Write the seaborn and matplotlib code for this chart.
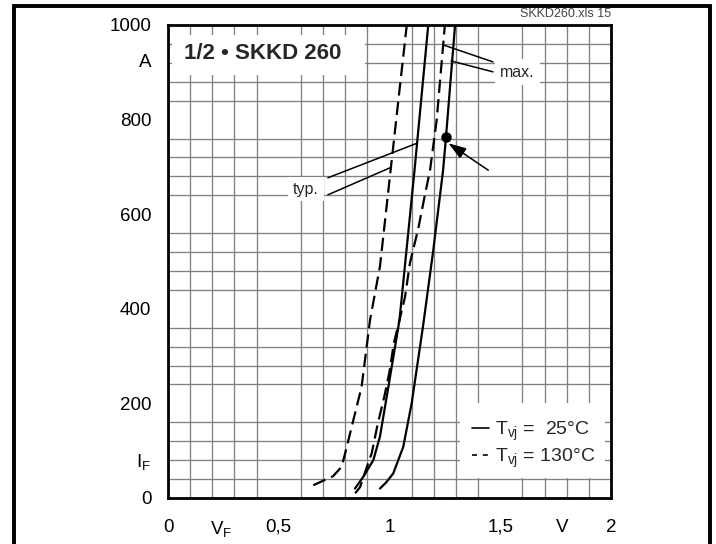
import numpy as np
import pandas as pd
import matplotlib
matplotlib.use("Agg")
import matplotlib.pyplot as plt
import seaborn as sns
from matplotlib.lines import Line2D
from matplotlib.patches import Rectangle

# ---------------- data ----------------
typ_130_v = [0.656, 0.745, 0.784, 0.807, 0.837, 0.874, 0.912, 0.957, 1.005, 1.047, 1.078]
typ_130_i = [27, 46, 66, 108, 165, 235, 376, 490, 693, 870, 1000]
typ_25_v = [0.844, 0.882, 0.927, 0.957, 0.995, 1.045, 1.113, 1.175]
typ_25_i = [20, 45, 80, 130, 235, 376, 693, 1000]
max_130_v = [0.845, 0.867, 0.89, 0.92, 0.946, 0.976, 1.0, 1.02, 1.045, 1.07, 1.092, 1.13, 1.16, 1.183, 1.213, 1.25]
max_130_i = [10, 23, 55, 95, 155, 213, 267, 328, 376, 425, 496, 570, 641, 693, 799, 1000]
max_25_v = [0.957, 0.985, 1.017, 1.062, 1.1, 1.151, 1.196, 1.242, 1.255, 1.296]
max_25_i = [20, 33, 52, 108, 200, 362, 518, 693, 763, 1000]

dot_v = [1.255]
dot_i = [763]

x_tick_pos = [0, 0.24, 0.5, 1.0, 1.5, 1.78, 2.0]
x_tick_lab = ["0", r"$\mathregular{V_F}$", "0,5", "1", "1,5", "V", "2"]
y_tick_pos = [0, 82, 200, 400, 600, 800, 924, 1000]
y_tick_lab = ["0", r"$\mathregular{I_F}$", "200", "400", "600", "800", "A", "1000"]

typ_leader1 = ([0.722, 1.124], [677, 750])
typ_leader2 = ([0.722, 1.002], [641, 698])
max_leader1 = ([1.242, 1.467], [958, 922])
max_leader2 = ([1.278, 1.467], [924, 901])
arrow_tail = (1.446, 693)
arrow_head = (1.266, 750)

title_text = "1/2 • SKKD 260"
file_text = "SKKD260.xls 15"
legend_labels = [r"$\mathregular{T_{vj}}$ =  25°C", r"$\mathregular{T_{vj}}$ = 130°C"]

# ---------------- build table ----------------
frames = []
for name, v, i, temp in [("typ130", typ_130_v, typ_130_i, "130°C"),
                         ("typ25", typ_25_v, typ_25_i, "25°C"),
                         ("max130", max_130_v, max_130_i, "130°C"),
                         ("max25", max_25_v, max_25_i, "25°C")]:
    frames.append(pd.DataFrame({"V": v, "I": i, "curve": name, "temp": temp}))
df = pd.concat(frames, ignore_index=True)

# ---------------- style ----------------
sns.set_theme(style="white")
plt.rcParams["font.family"] = ["Liberation Sans", "DejaVu Sans"]
plt.rcParams["mathtext.fontset"] = "custom"
plt.rcParams["mathtext.rm"] = "Liberation Sans"
plt.rcParams["mathtext.it"] = "Liberation Sans:italic"
plt.rcParams["mathtext.bf"] = "Liberation Sans:bold"

fig = plt.figure(figsize=(7.16, 5.44), dpi=100)
fig.patch.set_facecolor("white")
ax = fig.add_axes([168 / 716, 1 - 498 / 544, (611 - 168) / 716, (498 - 25) / 544])
ax.set_facecolor("white")

sns.lineplot(data=df, x="V", y="I", units="curve", style="temp", estimator=None,
             sort=False, color="black", lw=1.6,
             dashes={"25°C": "", "130°C": (6.0, 2.8)}, legend=False, ax=ax, zorder=4)
ax.plot(dot_v, dot_i, "o", color="black", ms=6.5, zorder=5)

ax.set_xlim(0, 2)
ax.set_ylim(0, 1000)
ax.set_xlabel("")
ax.set_ylabel("")

# grid
ax.set_xticks(np.arange(0, 2.001, 0.1), minor=True)
ax.set_yticks(np.arange(0, 1000.1, 40), minor=True)
ax.grid(False, which="major")
ax.grid(True, which="minor", color="#808080", lw=0.95, zorder=0)
ax.set_axisbelow(True)

ax.set_xticks(x_tick_pos)
ax.set_xticklabels(x_tick_lab)
ax.set_yticks(y_tick_pos)
ax.set_yticklabels(y_tick_lab)
ax.tick_params(which="both", length=0)
ax.tick_params(axis="x", which="major", pad=15, labelsize=13.5, colors="black")
ax.tick_params(axis="y", which="major", pad=12, labelsize=13.5, colors="black")

for s in ax.spines.values():
    s.set_color("black")
    s.set_linewidth(2.0)
    s.set_zorder(6)

# white boxes (title and legend backgrounds)
ax.add_patch(Rectangle((0.02, 894), 0.87, 85, facecolor="white", edgecolor="none", zorder=1.5))
ax.add_patch(Rectangle((1.32, 42), 0.655, 159, facecolor="white", edgecolor="none", zorder=1.5))

ax.text(0.428, 940, title_text, ha="center", va="center", fontsize=16,
        fontweight="bold", zorder=3)

# leaders and labels
for lv, li in [typ_leader1, typ_leader2, max_leader1, max_leader2]:
    ax.plot(lv, li, color="black", lw=1.1, zorder=3)
ax.text(0.565, 653, "typ.", ha="left", va="center", fontsize=11.5, zorder=3,
        bbox=dict(facecolor="white", edgecolor="none", pad=3.5))
ax.text(1.5, 900, "max.", ha="left", va="center", fontsize=11.5, zorder=3,
        bbox=dict(facecolor="white", edgecolor="none", pad=4))

ax.annotate("", xy=arrow_head, xytext=arrow_tail,
            arrowprops=dict(arrowstyle="-|>,head_length=0.9,head_width=0.3",
                            color="black", lw=1.1, shrinkA=0, shrinkB=0), zorder=5)

# legend
handles = [Line2D([], [], color="black", lw=1.2),
           Line2D([], [], color="black", lw=1.2, dashes=(3.0, 3.5))]
leg = ax.legend(handles, legend_labels, loc="center", bbox_to_anchor=(1.65, 113),
                bbox_transform=ax.transData, frameon=False, fontsize=14,
                handlelength=0.85, handletextpad=0.3, labelspacing=0.2)
leg.set_zorder(6)

# file tag
fig.text(611 / 716, 1 - 14 / 544, file_text, ha="right", va="center", fontsize=9, color="#444444")

# outer frame (left, top, right)
fr_l, fr_r, fr_t = 13.5 / 716, 709.5 / 716, 1 - 5.5 / 544
fig.add_artist(Line2D([fr_l, fr_l, fr_r, fr_r], [-0.05, fr_t, fr_t, -0.05],
                      transform=fig.transFigure, color="black", lw=2.8,
                      solid_joinstyle="miter"))

fig.savefig("out.png", dpi=100, facecolor="white")
